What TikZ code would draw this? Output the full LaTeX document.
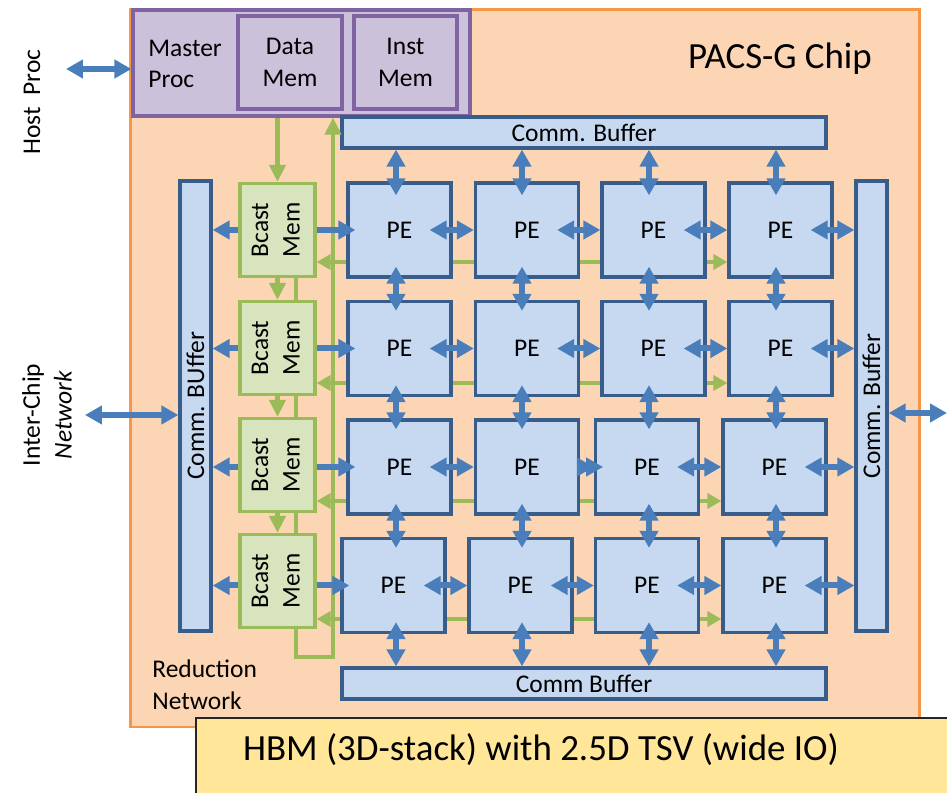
\documentclass[tikz,border=0pt]{standalone}
\usepackage{fontspec}
\setmainfont{Carlito}
\usetikzlibrary{arrows.meta}
\definecolor{chipfill}{HTML}{FCD5B5}
\definecolor{chipline}{HTML}{F79646}
\definecolor{pfill}{HTML}{CCC1DA}
\definecolor{pline}{HTML}{8064A2}
\definecolor{bfill}{HTML}{C6D9F1}
\definecolor{bdark}{HTML}{385D8A}
\definecolor{bline}{HTML}{4A7EBB}
\definecolor{gfill}{HTML}{D7E4BD}
\definecolor{gline}{HTML}{9BBB59}
\definecolor{hbmfill}{HTML}{FFE699}
\pgfdeclarelayer{chiplayer}
\pgfdeclarelayer{wires}
\pgfsetlayers{chiplayer,wires,main}
\begin{document}
\begin{tikzpicture}[x=0.02cm, y=-0.02cm,
    font=\fontsize{14.5}{18}\selectfont,
    pebox/.style={draw=bdark, fill=bfill, line width=0.065cm, minimum width=2.06cm, minimum height=1.88cm},
    buf/.style={draw=bdark, fill=bfill, line width=0.065cm, inner sep=0pt},
    bcast/.style={draw=gline, fill=gfill, line width=0.065cm, minimum width=1.5cm, minimum height=1.86cm, inner sep=0pt},
    mem/.style={draw=pline, fill=pfill, line width=0.065cm, minimum height=1.86cm, align=center},
    biarrow/.style={draw=bline, line width=0.12cm, {Triangle[length=0.34cm,width=0.36cm]}-{Triangle[length=0.34cm,width=0.36cm]}},
    toarrow/.style={draw=bline, line width=0.12cm, -{Triangle[length=0.34cm,width=0.36cm]}},
    pelink/.style={biarrow, shorten <=-0.46cm},
    greenline/.style={draw=gline, line width=0.09cm},
    garrow/.style={greenline, -{Triangle[length=0.34cm,width=0.32cm]}},
    gbiarrow/.style={greenline, {Triangle[length=0.28cm,width=0.3cm]}-{Triangle[length=0.28cm,width=0.3cm]}},
]
    \useasboundingbox (0,0) rectangle (947,793);
    \clip (0,0) rectangle (947,793);

    % Chip outline
    \begin{pgfonlayer}{chiplayer}
        \draw[fill=chipfill, draw=chipline, line width=0.06cm] (130,10) rectangle (919,727);
    \end{pgfonlayer}
    \node[font=\fontsize{21}{25}\selectfont] (chiplbl) at (780,59) {PACS-G Chip};

    % Master processor and memories
    \node[draw=pline, fill=pfill, line width=0.065cm, minimum width=6.74cm, minimum height=2.12cm] (master) at (301.5,63) {};
    \node[anchor=west, align=left, inner sep=0pt] (mastertxt) at (148,64) {Master\\Proc};
    \node[mem, minimum width=2.08cm] (datamem) at (290,62.5) {Data\\Mem};
    \node[mem, minimum width=2.06cm] (instmem) at (405.5,62.5) {Inst\\Mem};

    \node[rotate=90] (hostlbl) at (32,102) {Host\ \ Proc};
    \coordinate (host) at (66,69);
    \draw[biarrow] (host) -- (master.west |- host);

    % Comm buffers
    \node[buf, minimum width=9.68cm, minimum height=0.62cm] (topbuf) at (584,132.5) {Comm. Buffer};
    \node[buf, minimum width=9.68cm, minimum height=0.62cm] (botbuf) at (584,683.5) {Comm Buffer};
    \node[buf, minimum width=0.62cm, minimum height=9cm] (lbuf) at (195.5,406) {\rotatebox{90}{Comm. BUffer}};
    \node[buf, minimum width=0.62cm, minimum height=9cm] (rbuf) at (871.5,406) {\rotatebox{90}{Comm. Buffer}};

    \node[rotate=90, align=center] (icnlbl) at (47,415) {Inter-Chip\\\textit{Network}};
    \coordinate (icn) at (85,415);
    \draw[biarrow] (icn) -- (lbuf.west |- icn);
    \coordinate (ext) at (947,413);
    \draw[biarrow] (rbuf.east |- ext) -- (ext);

    % PE array
    \node[pebox] (pe11) at (399.5,230) {PE};
    \node[pebox] (pe12) at (527,230) {PE};
    \node[pebox] (pe13) at (653.5,230) {PE};
    \node[pebox] (pe14) at (780.5,230) {PE};
    \node[pebox] (pe21) at (399.5,348.5) {PE};
    \node[pebox] (pe22) at (527,348.5) {PE};
    \node[pebox] (pe23) at (653.5,348.5) {PE};
    \node[pebox] (pe24) at (780.5,348.5) {PE};
    \node[pebox] (pe31) at (399.5,467) {PE};
    \node[pebox] (pe32) at (527,467) {PE};
    \node[pebox] (pe33) at (647,467) {PE};
    \node[pebox] (pe34) at (774.5,467) {PE};
    \node[pebox] (pe41) at (393.5,585.5) {PE};
    \node[pebox] (pe42) at (520.5,585.5) {PE};
    \node[pebox] (pe43) at (647,585.5) {PE};
    \node[pebox] (pe44) at (774.5,585.5) {PE};

    % Broadcast memories
    \node[bcast] (bcast1) at (277.5,230) {\rotatebox{90}{\begin{tabular}{@{}c@{}}Bcast\\Mem\end{tabular}}};
    \node[bcast] (bcast2) at (277.5,348) {\rotatebox{90}{\begin{tabular}{@{}c@{}}Bcast\\Mem\end{tabular}}};
    \node[bcast] (bcast3) at (277.5,465) {\rotatebox{90}{\begin{tabular}{@{}c@{}}Bcast\\Mem\end{tabular}}};
    \node[bcast] (bcast4) at (277.5,581) {\rotatebox{90}{\begin{tabular}{@{}c@{}}Bcast\\Mem\end{tabular}}};

    % Broadcast path
    \draw[garrow] (master.south -| bcast1) -- (bcast1.north);
    \draw[garrow] (bcast1.south) -- (bcast2.north);
    \draw[garrow] (bcast2.south) -- (bcast3.north);
    \draw[garrow] (bcast3.south) -- (bcast4.north);

    % Reduction network, behind the boxes
    \coordinate (g1) at (0,262);
    \coordinate (g2) at (0,383);
    \coordinate (g3) at (0,501);
    \coordinate (g4) at (0,619);
    \coordinate (loopl) at (296,657);
    \coordinate (loopr) at (333,657);
    \begin{pgfonlayer}{wires}
        \draw[gbiarrow] (bcast1.east |- g1) -- (pe14.west |- g1);
        \draw[gbiarrow] (bcast2.east |- g2) -- (pe24.west |- g2);
        \draw[gbiarrow] (bcast3.east |- g3) -- (pe34.west |- g3);
        \draw[gbiarrow] (bcast4.east |- g4) -- (pe44.west |- g4);
        \draw[greenline, line join=miter] (bcast1.south -| loopl) -- (loopl) -- (loopr) -- ([yshift=-0.5cm]master.south -| loopr);
    \end{pgfonlayer}
    \draw[garrow] ([yshift=-0.5cm]master.south -| loopr) -- (master.south -| loopr);

    % Bcast Mem to PE and left buffer
    \draw[toarrow, shorten >=-0.18cm] (bcast1.east |- pe11.west) -- (pe11.west);
    \draw[toarrow, shorten >=-0.18cm] (bcast2.east |- pe21.west) -- (pe21.west);
    \draw[toarrow, shorten >=-0.18cm] (bcast3.east |- pe31.west) -- (pe31.west);
    \draw[toarrow, shorten >=-0.18cm] (bcast4.east |- pe41.west) -- (pe41.west);
    \draw[toarrow] (bcast1.west |- pe11.west) -- (lbuf.east |- pe11.west);
    \draw[toarrow] (bcast2.west |- pe21.west) -- (lbuf.east |- pe21.west);
    \draw[toarrow] (bcast3.west |- pe31.west) -- (lbuf.east |- pe31.west);
    \draw[toarrow] (bcast4.west |- pe41.west) -- (lbuf.east |- pe41.west);

    % PE to PE, row by row
    \draw[pelink] (pe11.east) -- (pe12.west);
    \draw[pelink] (pe12.east) -- (pe13.west);
    \draw[pelink] (pe13.east) -- (pe14.west);
    \draw[pelink] (pe14.east) -- (rbuf.west |- pe14.east);
    \draw[pelink] (pe21.east) -- (pe22.west);
    \draw[pelink] (pe22.east) -- (pe23.west);
    \draw[pelink] (pe23.east) -- (pe24.west);
    \draw[pelink] (pe24.east) -- (rbuf.west |- pe24.east);
    \draw[pelink] (pe31.east) -- (pe32.west);
    \draw[pelink] (pe32.east) -- (pe33.west);
    \draw[pelink] (pe33.east) -- (pe34.west);
    \draw[pelink] (pe34.east) -- (rbuf.west |- pe34.east);
    \draw[pelink] (pe41.east) -- (pe42.west);
    \draw[pelink] (pe42.east) -- (pe43.west);
    \draw[pelink] (pe43.east) -- (pe44.west);
    \draw[pelink] (pe44.east) -- (rbuf.west |- pe44.east);

    % PE to PE, column by column
    \coordinate (col1) at (396,0);
    \coordinate (col2) at (522,0);
    \coordinate (col3) at (649,0);
    \coordinate (col4) at (776,0);
    \draw[biarrow, shorten >=-0.28cm] (topbuf.south -| col1) -- (pe11.north -| col1);
    \draw[biarrow, shorten >=-0.28cm] (topbuf.south -| col2) -- (pe12.north -| col2);
    \draw[biarrow, shorten >=-0.28cm] (topbuf.south -| col3) -- (pe13.north -| col3);
    \draw[biarrow, shorten >=-0.28cm] (topbuf.south -| col4) -- (pe14.north -| col4);
    \draw[biarrow, shorten <=-0.24cm, shorten >=-0.22cm] (pe11.south -| col1) -- (pe21.north -| col1);
    \draw[biarrow, shorten <=-0.24cm, shorten >=-0.22cm] (pe12.south -| col2) -- (pe22.north -| col2);
    \draw[biarrow, shorten <=-0.24cm, shorten >=-0.22cm] (pe13.south -| col3) -- (pe23.north -| col3);
    \draw[biarrow, shorten <=-0.24cm, shorten >=-0.22cm] (pe14.south -| col4) -- (pe24.north -| col4);
    \draw[biarrow, shorten <=-0.24cm, shorten >=-0.22cm] (pe21.south -| col1) -- (pe31.north -| col1);
    \draw[biarrow, shorten <=-0.24cm, shorten >=-0.22cm] (pe22.south -| col2) -- (pe32.north -| col2);
    \draw[biarrow, shorten <=-0.24cm, shorten >=-0.22cm] (pe23.south -| col3) -- (pe33.north -| col3);
    \draw[biarrow, shorten <=-0.24cm, shorten >=-0.22cm] (pe24.south -| col4) -- (pe34.north -| col4);
    \draw[biarrow, shorten <=-0.24cm, shorten >=-0.22cm] (pe31.south -| col1) -- (pe41.north -| col1);
    \draw[biarrow, shorten <=-0.24cm, shorten >=-0.22cm] (pe32.south -| col2) -- (pe42.north -| col2);
    \draw[biarrow, shorten <=-0.24cm, shorten >=-0.22cm] (pe33.south -| col3) -- (pe43.north -| col3);
    \draw[biarrow, shorten <=-0.24cm, shorten >=-0.22cm] (pe34.south -| col4) -- (pe44.north -| col4);
    \draw[biarrow, shorten <=-0.24cm] (pe41.south -| col1) -- (botbuf.north -| col1);
    \draw[biarrow, shorten <=-0.24cm] (pe42.south -| col2) -- (botbuf.north -| col2);
    \draw[biarrow, shorten <=-0.24cm] (pe43.south -| col3) -- (botbuf.north -| col3);
    \draw[biarrow, shorten <=-0.24cm] (pe44.south -| col4) -- (botbuf.north -| col4);

    \node[anchor=west, align=left, inner sep=0pt] (redlbl) at (152,685) {Reduction\\Network};

    % HBM stack
    \draw[fill=hbmfill, draw=black!85, line width=0.03cm] (196,718) rectangle (1000,850);
    \node[font=\fontsize{21}{25}\selectfont] (hbm) at (541,750) {HBM (3D-stack) with 2.5D TSV (wide IO)};
\end{tikzpicture}
\end{document}
